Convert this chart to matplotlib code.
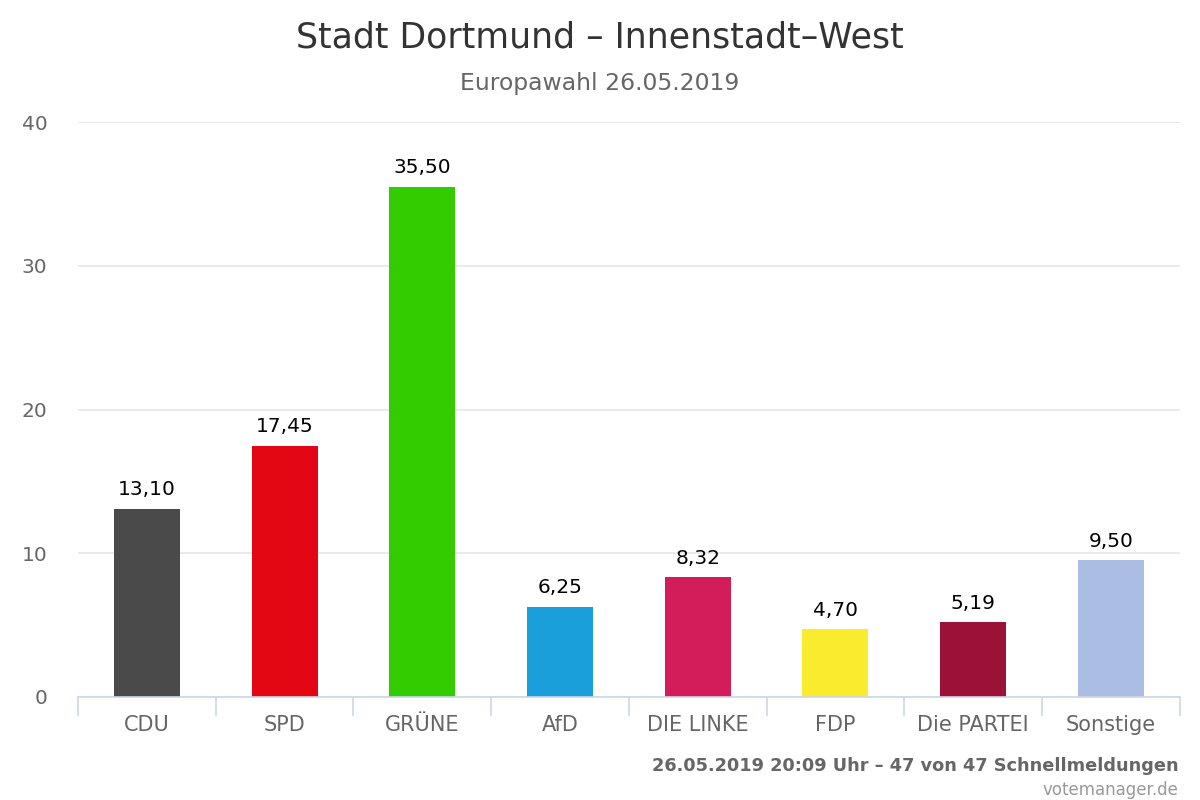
import matplotlib
matplotlib.use("Agg")
import matplotlib.pyplot as plt

categories = ["CDU", "SPD", "GRÜNE", "AfD", "DIE LINKE", "FDP", "Die PARTEI", "Sonstige"]
values = [13.10, 17.45, 35.50, 6.25, 8.32, 4.70, 5.19, 9.50]
colors = ["#4a4a4a", "#e30613", "#33cc00", "#1a9fdb", "#d31c5a", "#f9ec2f", "#9b1236", "#abbde3"]
yticks = [0, 10, 20, 30, 40]

title = "Stadt Dortmund – Innenstadt–West"
subtitle = "Europawahl 26.05.2019"
credit1 = "26.05.2019 20:09 Uhr – 47 von 47 Schnellmeldungen"
credit2 = "votemanager.de"

plt.rcParams['font.family'] = ['DejaVu Sans']
fig = plt.figure(figsize=(12, 8), dpi=100)
ax = fig.add_axes([0.065, 0.12875, 0.918, 0.71875])

x = list(range(len(categories)))
ax.bar(x, values, width=0.48, color=colors, zorder=3)
for xi, v in zip(x, values):
    ax.annotate(f"{v:.2f}".replace(".", ","), (xi, v), xytext=(0, 7), textcoords="offset points",
                ha="center", va="bottom", fontsize=14.5, color="#000000", zorder=4)

ax.set_xlim(-0.5, len(categories) - 0.5)
ax.set_ylim(0, 40)
ax.set_yticks(yticks)
ax.set_yticklabels([str(t) for t in yticks])
ax.yaxis.grid(True, color="#e6e6e6", linewidth=1.2, zorder=0)
ax.tick_params(axis="y", length=0, labelsize=14.5, labelcolor="#666666", pad=22)

ax.set_xticks(x)
ax.set_xticklabels(categories)
ax.tick_params(axis="x", which="major", length=0, labelsize=15, labelcolor="#666666", pad=13)
ax.set_xticks([i - 0.5 for i in range(len(categories) + 1)], minor=True)
ax.tick_params(axis="x", which="minor", length=14, width=1.2, color="#ccd6eb", direction="out")

for s in ["top", "right", "left"]:
    ax.spines[s].set_visible(False)
ax.spines["bottom"].set_color("#ccd6eb")
ax.spines["bottom"].set_linewidth(1.2)
ax.spines["bottom"].set_zorder(5)

fig.text(0.5, 0.953, title, ha="center", va="center", fontsize=25, color="#333333")
fig.text(0.5, 0.896, subtitle, ha="center", va="center", fontsize=16.9, color="#666666")
fig.text(0.982, 0.043, credit1, ha="right", va="center", fontsize=12.75, color="#666666", fontweight="bold")
fig.text(0.982, 0.012, credit2, ha="right", va="center", fontsize=12, color="#999999")

fig.savefig("out.png", dpi=100)
